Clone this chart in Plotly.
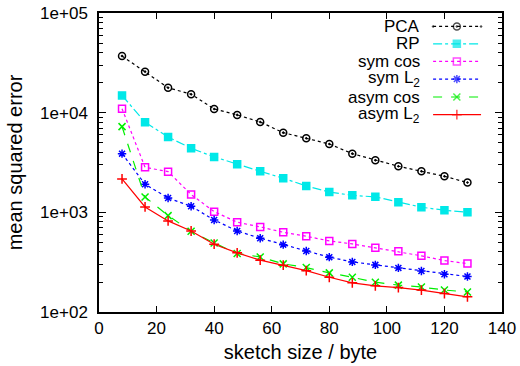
import plotly.graph_objects as go

sketch_size = [8, 16, 24, 32, 40, 48, 56, 64, 72, 80, 88, 96, 104, 112, 120, 128]
pca = [37000, 25800, 17800, 15300, 10900, 9500, 8070, 6300, 5530, 4850, 3880, 3330, 2900, 2580, 2300, 1990]
rp = [14900, 8020, 5700, 4390, 3600, 3030, 2580, 2200, 1840, 1600, 1480, 1430, 1260, 1125, 1050, 1000]
sym_cos = [10970, 2830, 2560, 1510, 1016, 796, 714, 631, 575, 517, 482, 440, 407, 366, 328, 306]
sym_l2 = [3880, 1914, 1393, 1150, 839, 650, 550, 474, 410, 355, 318, 297, 277, 258, 239, 227]
asym_cos = [7240, 1425, 927, 646, 493, 386, 357, 304, 279, 247, 223, 199, 186, 178, 166, 159]
asym_l2 = [2163, 1132, 820, 650, 479, 392, 331, 295, 260, 223, 196, 183, 176, 166, 153, 142]

series_names = ["PCA", "RP", "sym cos", "sym L<sub>2</sub>", "asym cos", "asym L<sub>2</sub>"]
y_tickvals = [1e2, 1e3, 1e4, 1e5]
y_ticktext = ["1e+02", "1e+03", "1e+04", "1e+05"]

styles = [
    dict(color="#000000", dash="dot", symbol="circle-open-dot", size=7, lw=1.2),
    dict(color="#00e8e8", dash="dashdot", symbol="square", size=7, lw=1.2),
    dict(color="#ff00ff", dash="dot", symbol="square-open", size=7, lw=1.2),
    dict(color="#0000ff", dash="dot", symbol="asterisk-open", size=7, lw=1.2),
    dict(color="#00ee00", dash="dash", symbol="x-thin-open", size=7, lw=1.2),
    dict(color="#ff0000", dash="solid", symbol="cross-thin-open", size=7, lw=1.2),
]
data = [pca, rp, sym_cos, sym_l2, asym_cos, asym_l2]

FONT = "Liberation Sans, Arial, sans-serif"
fig = go.Figure()
for name, vals, st in zip(series_names, data, styles):
    fig.add_trace(go.Scatter(
        x=sketch_size, y=vals, mode="lines+markers", name=name, showlegend=False,
        line=dict(color=st["color"], dash=st["dash"], width=st["lw"]),
        marker=dict(symbol=st["symbol"], size=st["size"], color=st["color"],
                    line=dict(color=st["color"], width=1.5)),
    ))

# custom gnuplot-style key (text right, sample to the right)
key_rows = [0.955, 0.897, 0.838, 0.779, 0.719, 0.660]
annotations = []
for name, st, ry in zip(series_names, styles, key_rows):
    fig.add_trace(go.Scatter(
        x=[0.829, 0.888, 0.948], y=[ry, ry, ry], xaxis="x2", yaxis="y2",
        mode="lines+markers", showlegend=False, hoverinfo="skip",
        line=dict(color=st["color"], dash=st["dash"], width=st["lw"]),
        marker=dict(symbol=st["symbol"], size=[0, st["size"], 0], color=st["color"],
                    line=dict(color=st["color"], width=1.5)),
    ))
    annotations.append(dict(
        x=0.8015, y=ry, xref="paper", yref="paper", text=name, showarrow=False,
        xanchor="right", yanchor="middle", font=dict(family=FONT, size=17, color="black"),
    ))

fig.update_layout(
    width=520, height=366,
    margin=dict(l=99, r=18, t=13, b=54, autoexpand=False),
    paper_bgcolor="white", plot_bgcolor="white",
    font=dict(family=FONT, size=17, color="black"),
    annotations=annotations,
    xaxis=dict(
        range=[0, 140], dtick=20, tick0=0, showgrid=False, zeroline=False,
        showline=True, linecolor="black", linewidth=1.5, mirror="ticks",
        ticks="inside", ticklen=6, tickcolor="black", tickwidth=1,
        automargin=False,
        title=dict(text="sketch size / byte", standoff=8),
    ),
    yaxis=dict(
        type="log", range=[2, 5], tickvals=y_tickvals, ticktext=y_ticktext,
        showgrid=False, zeroline=False,
        showline=True, linecolor="black", linewidth=1.5, mirror="allticks",
        ticks="inside", ticklen=7, tickcolor="black", tickwidth=1,
        ticklabelstandoff=6, automargin=False,
        minor=dict(ticks="inside", ticklen=4, tickcolor="black", tickwidth=1,
                   dtick="D1", showgrid=False),
        title=dict(text="mean squared error", standoff=12),
    ),
    xaxis2=dict(overlaying="x", range=[0, 1], visible=False),
    yaxis2=dict(overlaying="y", range=[0, 1], visible=False),
)

fig.write_html("out.html", config={"displayModeBar": False},
               post_script="document.body.style.margin='0';")
